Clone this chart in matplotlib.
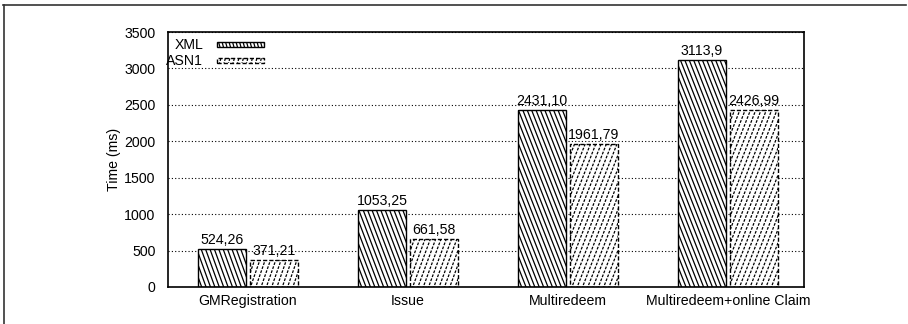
import numpy as np
import matplotlib
matplotlib.use("Agg")
import matplotlib.pyplot as plt
from matplotlib.patches import Rectangle
from matplotlib.collections import LineCollection
from matplotlib.lines import Line2D
from matplotlib.transforms import IdentityTransform

plt.rcParams['font.family'] = ['Liberation Sans', 'DejaVu Sans']

categories = ["GMRegistration", "Issue", "Multiredeem", "Multiredeem+online Claim"]
xml_labels = ["524,26", "1053,25", "2431,10", "3113,9"]
asn1_labels = ["371,21", "661,58", "1961,79", "2426,99"]
xml_values = [float(s.replace(",", ".")) for s in xml_labels]
asn1_values = [float(s.replace(",", ".")) for s in asn1_labels]
y_ticks = [0, 500, 1000, 1500, 2000, 2500, 3000, 3500]

FS = 10.2
W, H, DPI = 908, 324, 100
fig = plt.figure(figsize=(W / DPI, H / DPI), dpi=DPI)
fig.patch.set_facecolor("white")

# axes box in pixels: left 168, right 804, top 32, bottom 287
L, R, T, B = 168, 804, 32, 287
ax = fig.add_axes([L / W, (H - B) / H, (R - L) / W, (B - T) / H])

x = np.arange(len(categories))
bw = 0.3
off = 0.1625

ax.set_xlim(-0.5, 3.475)
ax.set_ylim(0, 3500)
ax.set_yticks(y_ticks)
ax.set_xticks(x)
ax.set_xticklabels(categories)
ax.tick_params(axis="both", length=0, labelsize=FS, colors="black", pad=5)
ax.tick_params(axis="y", pad=9)
ax.set_ylabel("Time (ms)", fontsize=FS, labelpad=2)
for sp in ax.spines.values():
    sp.set_linewidth(1.2)
    sp.set_color("black")

ax.set_axisbelow(True)
ax.yaxis.grid(True, linestyle=(0, (1, 2)), linewidth=0.8, color="black")

xml_bars = ax.bar(x - off, xml_values, bw, facecolor="white", edgecolor="black",
                  linewidth=1.0, zorder=2)
asn1_bars = ax.bar(x + off, asn1_values, bw, facecolor="white", edgecolor="black",
                   linewidth=1.0, linestyle=(0, (3, 1.5)), zorder=2)


def hatch_lines(x0, y0, x1, y1, spacing, slope, direction, dashed, lw):
    """Steep diagonal lines covering a pixel rectangle."""
    h = y1 - y0
    dx = h * slope
    segs = []
    c = x0 - dx - spacing
    while c < x1 + spacing:
        if direction == "back":   # top-left to bottom-right
            segs.append([(c, y1 + 2), (c + dx, y0 - 2)])
        else:                     # bottom-left to top-right
            segs.append([(c, y0 - 2), (c + dx, y1 + 2)])
        c += spacing
    lc = LineCollection(segs, colors="black", linewidths=lw,
                        transform=IdentityTransform(), zorder=2.5)
    if dashed:
        lc.set_linestyle((0, (2.2, 1.2)))
    return lc


def bar_pixels(p):
    (px0, py0) = ax.transData.transform((p.get_x(), p.get_y()))
    (px1, py1) = ax.transData.transform((p.get_x() + p.get_width(), p.get_y() + p.get_height()))
    return px0, py0, px1, py1


for bars, direc, dashed, sp in ((xml_bars, "back", False, 4.4),
                                (asn1_bars, "fwd", True, 5.3)):
    for p in bars:
        lc = hatch_lines(*bar_pixels(p), spacing=sp, slope=0.4,
                         direction=direc, dashed=dashed, lw=0.9)
        ax.add_collection(lc)
        lc.set_clip_path(p.get_path(), p.get_transform())

for xi, v, s in zip(x - off, xml_values, xml_labels):
    ax.text(xi, v + 25, s, ha="center", va="bottom", fontsize=FS, zorder=3)
for xi, v, s in zip(x + off, asn1_values, asn1_labels):
    ax.text(xi, v + 25, s, ha="center", va="bottom", fontsize=FS, zorder=3)


# legend: text on the left, hatched sample on the right
def px(xp, yp):
    return xp, H - yp


legend_rows = [("XML", 45, 42, 47, "back", False),
               ("ASN1", 61, 58, 63, "fwd", True)]
for name, ty, sy0, sy1, direc, dashed in legend_rows:
    tx, tyy = px(203, ty)
    fig.text(tx / W, tyy / H, name, ha="right", va="center", fontsize=FS)
    rx0, ry0 = px(217, sy1)
    rx1, ry1 = px(264, sy0)
    rect = Rectangle((rx0, ry0), rx1 - rx0, ry1 - ry0, transform=IdentityTransform(),
                     facecolor="white", edgecolor="black", linewidth=1.0,
                     linestyle=(0, (3, 1.5)) if dashed else "-", zorder=4)
    fig.add_artist(rect)
    lc = hatch_lines(rx0, ry0, rx1, ry1, spacing=3.5 if not dashed else 4.5,
                     slope=0.5, direction=direc, dashed=dashed, lw=0.9)
    lc.set_zorder(4.5)
    fig.add_artist(lc)
    lc.set_clip_path(rect.get_path(), rect.get_transform())

# outer frame lines (top and left)
fig.add_artist(Line2D([3 / W, 906 / W], [(H - 5) / H, (H - 5) / H], color="#333333",
                      linewidth=1.2, transform=fig.transFigure))
fig.add_artist(Line2D([3.5 / W, 3.5 / W], [0, (H - 5) / H], color="#333333",
                      linewidth=1.2, transform=fig.transFigure))

fig.savefig("out.png", dpi=DPI, facecolor="white")
